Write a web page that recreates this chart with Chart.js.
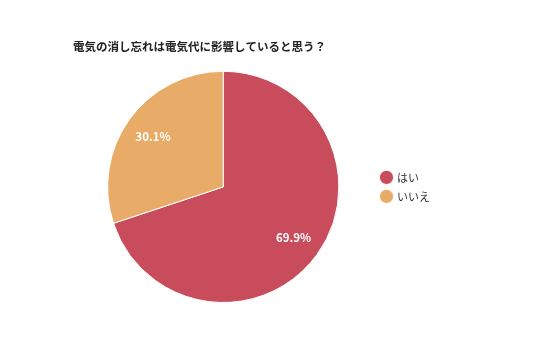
<!DOCTYPE html>
<html>
<head>
<meta charset="utf-8">
<script src="https://cdn.jsdelivr.net/npm/chart.js@4"></script>
<style>
  html, body { margin: 0; padding: 0; background: #fff; }
  #wrap { width: 536px; height: 357px; }
</style>
</head>
<body>
<div id="wrap"><canvas id="pieChart"></canvas></div>
<script>
const titleText = '電気の消し忘れは電気代に影響していると思う？';
const labels = ['はい', 'いいえ'];
const values = [69.9, 30.1];
const colors = ['#c84c5c', '#e8ac68'];

const fontFamily = '"Noto Sans CJK JP", "Noto Sans", sans-serif';

// draws the percentage inside each slice
const sliceLabels = {
    id: 'sliceLabels',
    afterDatasetsDraw(chart) {
        const ctx = chart.ctx;
        const meta = chart.getDatasetMeta(0);
        ctx.save();
        ctx.fillStyle = '#fff';
        ctx.font = 'bold 11.5px ' + fontFamily;
        ctx.textAlign = 'center';
        ctx.textBaseline = 'middle';
        meta.data.forEach((arc, i) => {
            const p = arc.getProps(['x', 'y', 'startAngle', 'endAngle', 'outerRadius'], true);
            const mid = (p.startAngle + p.endAngle) / 2;
            const r = p.outerRadius * 0.75;
            ctx.fillText(values[i].toFixed(1) + '%', p.x + Math.cos(mid) * r, p.y + Math.sin(mid) * r);
        });
        ctx.restore();
    }
};

new Chart(document.getElementById('pieChart').getContext('2d'), {
    type: 'pie',
    data: {
        labels,
        datasets: [{
            data: values,
            backgroundColor: colors,
            borderColor: '#fff',
            borderWidth: 1
        }]
    },
    options: {
        responsive: true,
        maintainAspectRatio: false,
        animation: false,
        layout: {
            padding: { top: 36, bottom: 54, left: 73, right: 96 }
        },
        plugins: {
            title: {
                display: true,
                text: titleText,
                align: 'start',
                color: '#222',
                font: { family: fontFamily, size: 11.5, weight: 'bold' },
                padding: { top: 4, bottom: 17 }
            },
            legend: {
                position: 'right',
                fullSize: false,
                labels: {
                    usePointStyle: true,
                    pointStyle: 'circle',
                    boxWidth: 10,
                    boxHeight: 10,
                    padding: 8,
                    color: '#333',
                    font: { family: fontFamily, size: 11 }
                }
            },
            tooltip: { enabled: false }
        }
    },
    plugins: [sliceLabels]
});
</script>
</body>
</html>
